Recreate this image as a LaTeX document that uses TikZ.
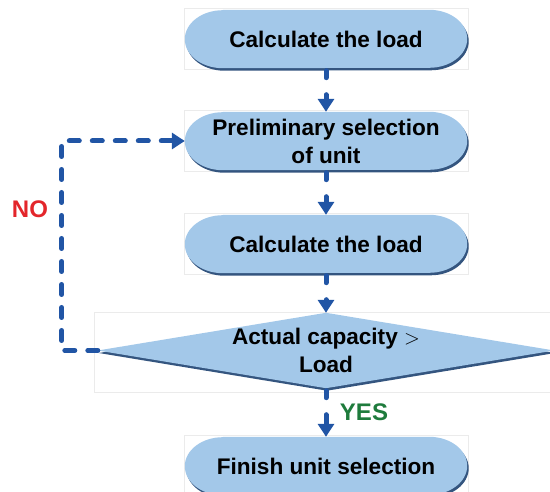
\documentclass[tikz,border=0pt]{standalone}
\usepackage{fontspec}
\setmainfont{Liberation Sans}
\usetikzlibrary{arrows.meta,shapes.geometric,backgrounds,calc}
\definecolor{fillc}{HTML}{A3C8E9}
\definecolor{shadc}{HTML}{34557F}
\definecolor{linec}{HTML}{2155A5}
\definecolor{noc}{HTML}{E3262B}
\definecolor{yesc}{HTML}{1E7B3C}
\definecolor{framec}{HTML}{EBEBEB}
\newcommand\stadpath[4]{%
  \path[#2] ($(#1.north west)+(38+#3,#4)$) -- ($(#1.north east)+(-38+#3,#4)$)
    arc[start angle=90,end angle=-90,x radius=38,y radius=29]
    -- ($(#1.south west)+(38+#3,#4)$)
    arc[start angle=270,end angle=90,x radius=38,y radius=29] -- cycle;}
\begin{document}
\begin{tikzpicture}[x=1pt,y=1pt,
  txt/.style={font=\fontsize{22.6}{28}\selectfont\bfseries, align=center, text=black},
  stadnode/.style={txt, minimum width=282pt, minimum height=58pt, inner sep=0pt},
  conn/.style={line width=5pt, draw=linec, line cap=round,
    dash pattern=on 7pt off 17pt on 200pt off 1pt, shorten <=2.5pt,
    -{Triangle[length=13pt,width=16pt]}},
  noconn/.style={line width=5pt, draw=linec, line cap=round, line join=round,
    dash pattern=on 10pt off 13pt, -{Triangle[length=13pt,width=16pt]}},
  nframe/.style={draw=framec, line width=0.6pt},
  shp/.style={fill=fillc},
  shd/.style={fill=shadc},
  lbl/.style={font=\fontsize{24}{28}\selectfont\bfseries},
]
\useasboundingbox (0,0) rectangle (550,-492);
\node[stadnode] (b1) at (326,-39) {Calculate the load};
\node[stadnode] (b2) at (326,-141) {Preliminary selection\\of unit};
\node[stadnode] (b3) at (326,-244) {Calculate the load};
\node[shape=diamond, draw=none, minimum width=456pt, minimum height=75pt, inner sep=0pt] (d) at (326,-350.5) {};
\node[txt] (dt) at (d.center) {Actual capacity $>$\\Load};
\node[stadnode] (b4) at (326,-466) {Finish unit selection};

\begin{scope}[on background layer]
  \foreach \n in {b1,b2,b3,b4}{
    \draw[nframe] ($(\n.south west)+(-1,-1)$) rectangle ($(\n.north east)+(1,1)$);
    \stadpath{\n}{shd}{1.5}{-2.5}
    \stadpath{\n}{shp}{0}{0}
  }
  \draw[nframe] ($(d.west)+(-4,38)$) rectangle ($(d.east)+(10,-41.5)$);
  \fill[shd] ($(d.north)+(1,-2.5)$) -- ($(d.east)+(1,-2.5)$) -- ($(d.south)+(1,-2.5)$) -- ($(d.west)+(1,-2.5)$) -- cycle;
  \fill[shp] (d.north) -- (d.east) -- (d.south) -- (d.west) -- cycle;
\end{scope}

\draw[conn] (b1.south) -- (b2.north);
\draw[conn] (b2.south) -- (b3.north);
\draw[conn] (b3.south) -- (d.north);
\draw[conn] (d.south) -- (b4.north);
\draw[noconn] (d.west) -- ++(-36,0) |- (b2.west);

\node[lbl, text=noc] (no) at (30,-209) {NO};
\node[lbl, text=yesc] (yes) at (364,-412) {YES};
\end{tikzpicture}
\end{document}
